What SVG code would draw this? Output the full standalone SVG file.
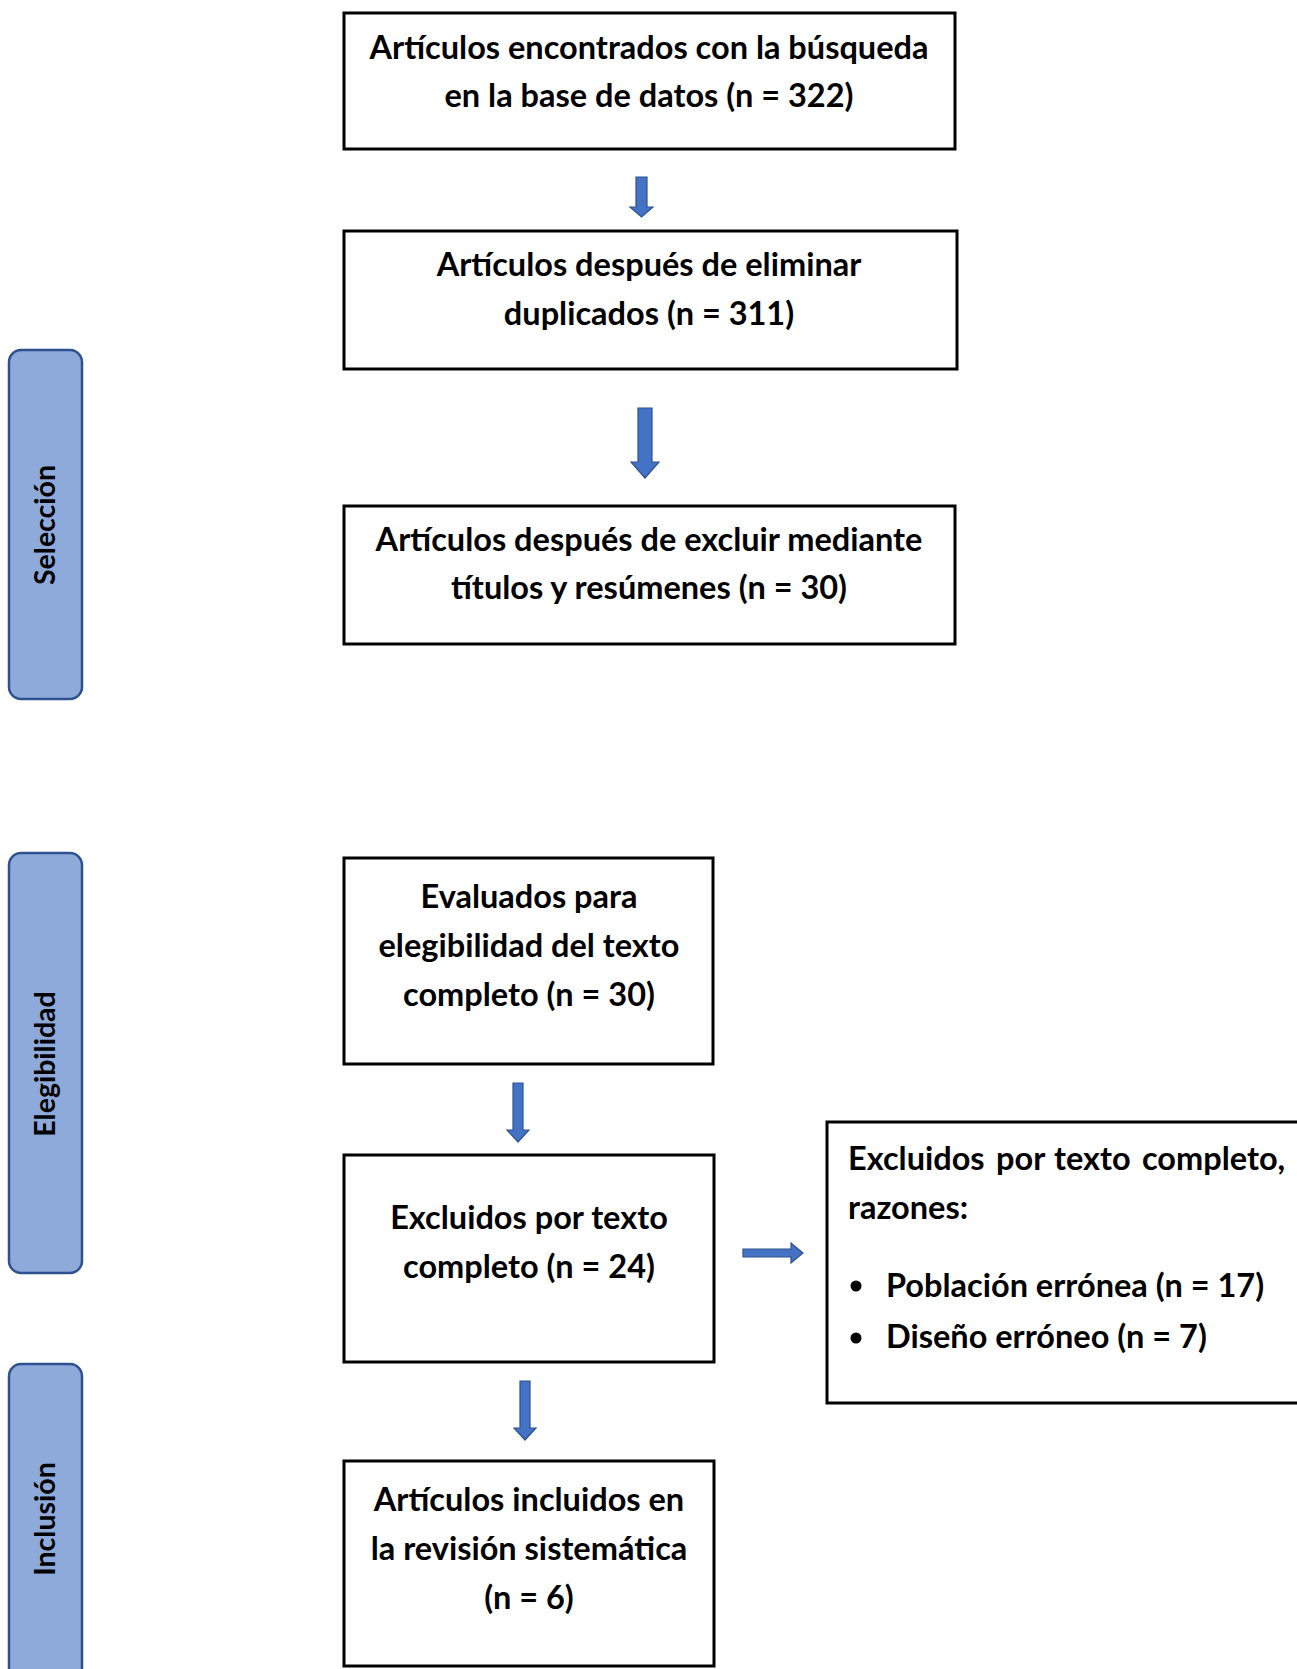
<svg xmlns="http://www.w3.org/2000/svg" width="1297" height="1669" viewBox="0 0 1297 1669">
<style>
.box{fill:#fff;stroke:#000;stroke-width:3}
.side{fill:#8eaadb;stroke:#2f528f;stroke-width:2.5}
.t{font-family:Lato,"Open Sans","Liberation Sans",sans-serif;font-weight:bold;font-size:32.5px;fill:#000}
.c{text-anchor:middle}
.s{font-family:Lato,"Open Sans","Liberation Sans",sans-serif;font-weight:bold;font-size:28.5px;fill:#000;text-anchor:middle}
.arr{fill:#4472c4;stroke:#2f528f;stroke-width:1.2}
</style>
<rect width="1297" height="1669" fill="#fff"/>
<g id="side-seleccion">
<rect class="side" x="9" y="350" width="73" height="349" rx="12"/>
<text class="s" transform="translate(55,525) rotate(-90)">Selección</text>
</g>
<g id="side-elegibilidad">
<rect class="side" x="9" y="853" width="73" height="420" rx="12"/>
<text class="s" transform="translate(55,1064) rotate(-90)">Elegibilidad</text>
</g>
<g id="side-inclusion">
<rect class="side" x="9" y="1364" width="73" height="320" rx="12"/>
<text class="s" transform="translate(55,1519) rotate(-90)">Inclusión</text>
</g>
<g id="n1">
<rect class="box" x="344" y="13" width="611" height="136"/>
<text class="t c" x="649" y="59">Artículos encontrados con la búsqueda</text>
<text class="t c" x="649" y="107">en la base de datos (n = 322)</text>
</g>
<g id="n2">
<rect class="box" x="344" y="231" width="613" height="138"/>
<text class="t c" x="649" y="276">Artículos después de eliminar</text>
<text class="t c" x="649" y="325">duplicados (n = 311)</text>
</g>
<g id="n3">
<rect class="box" x="344" y="506" width="611" height="138"/>
<text class="t c" x="649" y="551">Artículos después de excluir mediante</text>
<text class="t c" x="649" y="599">títulos y resúmenes (n = 30)</text>
</g>
<g id="n4">
<rect class="box" x="344" y="858" width="369" height="206"/>
<text class="t c" x="529" y="908">Evaluados para</text>
<text class="t c" x="529" y="957">elegibilidad del texto</text>
<text class="t c" x="529" y="1006">completo (n = 30)</text>
</g>
<g id="n5">
<rect class="box" x="344" y="1155" width="370" height="207"/>
<text class="t c" x="529" y="1229">Excluidos por texto</text>
<text class="t c" x="529" y="1278">completo (n = 24)</text>
</g>
<g id="n6">
<rect class="box" x="344" y="1461" width="370" height="205"/>
<text class="t c" x="529" y="1511">Artículos incluidos en</text>
<text class="t c" x="529" y="1560">la revisión sistemática</text>
<text class="t c" x="529" y="1609">(n = 6)</text>
</g>
<g id="n7">
<rect class="box" x="827" y="1122" width="480" height="281"/>
<text class="t" y="1170"><tspan x="848">Excluidos</tspan><tspan x="996">por</tspan><tspan x="1054">texto</tspan><tspan x="1142">completo,</tspan></text>
<text class="t" x="848" y="1219">razones:</text>
<circle cx="856" cy="1286" r="5.5" fill="#000"/>
<text class="t" x="886" y="1297">Población errónea (n = 17)</text>
<circle cx="856" cy="1338" r="5.5" fill="#000"/>
<text class="t" x="886" y="1348">Diseño erróneo (n = 7)</text>
</g>
<g id="connectors">
<path class="arr" d="M636,177 H647 V207 H653 L641.5,217 L630,207 H636 Z"/>
<path class="arr" d="M638,408 H652 V462 H659 L645,478 L631,462 H638 Z"/>
<path class="arr" d="M513,1083 H523 V1130 H529 L518,1142 L507,1130 H513 Z"/>
<path class="arr" d="M520,1381 H530 V1428 H536 L525,1440 L514,1428 H520 Z"/>
<path class="arr" d="M743,1249 H791 V1243 L803,1253 L791,1263 V1257 H743 Z"/>
</g>
</svg>
